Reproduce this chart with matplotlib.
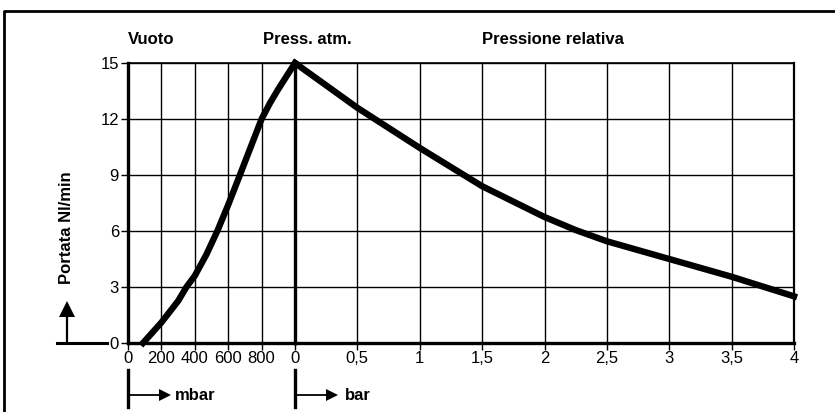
import matplotlib
matplotlib.use('Agg')
import matplotlib.pyplot as plt
from matplotlib.lines import Line2D
from matplotlib.transforms import blended_transform_factory

plt.rcParams['font.family'] = ['Liberation Sans', 'DejaVu Sans']
plt.rcParams['font.size'] = 12

# vacuum side (mbar) and relative pressure side (bar)
vac_mbar = [90, 200, 300, 350, 400, 470, 535, 600, 670, 800, 850, 900, 950, 1000]
vac_flow = [0, 1.1, 2.25, 3.0, 3.6, 4.75, 6.0, 7.4, 9.0, 12.0, 12.85, 13.6, 14.3, 15.0]
rel_bar = [0, 0.5, 1, 1.5, 2, 2.25, 2.5, 3, 3.5, 4]
rel_flow = [15, 12.6, 10.45, 8.4, 6.75, 6.05, 5.45, 4.5, 3.55, 2.5]

vac_ticks = [0, 200, 400, 600, 800]
bar_ticks = [0, 0.5, 1, 1.5, 2, 2.5, 3, 3.5, 4]
bar_labels = ['0', '0,5', '1', '1,5', '2', '2,5', '3', '3,5', '4']
y_ticks = [0, 3, 6, 9, 12, 15]

W, H = 835, 412
fig = plt.figure(figsize=(W / 100, H / 100), dpi=100)

# axes rectangles from pixel positions
L, R, B, T, S = 128 / W, 794 / W, 1 - 343 / H, 1 - 63 / H, 295 / W
ax1 = fig.add_axes([L, B, S - L, T - B])
ax2 = fig.add_axes([S, B, R - S, T - B])

for ax in (ax1, ax2):
    ax.set_ylim(0, 15)
    ax.set_yticks(y_ticks)
    ax.grid(True, color='k', lw=1.0)
    ax.set_axisbelow(True)
    ax.tick_params(axis='x', length=5, width=1, pad=1, labelsize=12)
    ax.tick_params(axis='y', length=5, width=1, pad=1.5, labelsize=12)
    ax.spines['top'].set_linewidth(1.2)
    ax.spines['bottom'].set_linewidth(2.4)
    ax.spines['left'].set_linewidth(2.4)

ax1.set_xlim(0, 1000)
ax1.set_xticks(vac_ticks)
ax1.set_xticklabels([str(v) for v in vac_ticks])
ax1.spines['right'].set_visible(False)

ax2.set_xlim(0, 4)
ax2.set_xticks(bar_ticks)
ax2.set_xticklabels(bar_labels)
ax2.spines['right'].set_linewidth(1.6)
ax2.tick_params(axis='y', left=False, labelleft=False)

ax1.plot(vac_mbar, vac_flow, color='k', lw=4.6, clip_on=False, zorder=5,
         solid_joinstyle='round')
ax2.plot(rel_bar, rel_flow, color='k', lw=4.6, clip_on=False, zorder=5,
         solid_joinstyle='round')

# headings
t1 = blended_transform_factory(ax1.transData, fig.transFigure)
t2 = blended_transform_factory(ax2.transData, fig.transFigure)
yh = 1 - 39 / H
ax1.text(0, yh, 'Vuoto', transform=t1, ha='left', va='center', fontweight='bold')
ax1.text(808, yh, 'Press. atm.', transform=t1, ha='left', va='center', fontweight='bold')
ax2.text(1.5, yh, 'Pressione relativa', transform=t2, ha='left', va='center', fontweight='bold')

# y label and up arrow
ax1.text(-367, 6.2, 'Portata Nl/min', rotation=90, ha='center', va='center',
         fontweight='bold')
ax1.plot([-425, -126], [0, 0], color='k', lw=2.2, clip_on=False)
ax1.plot([-363, -363], [0, 1.8], color='k', lw=1.6, clip_on=False)
ax1.plot([-363], [1.8], marker='^', ms=11, mew=0, color='k', clip_on=False)

# unit arrows under the x axis
for ax, x_head, x_txt, unit in ((ax1, 222, 281, 'mbar'), (ax2, 0.293, 0.403, 'bar')):
    tr = ax.get_xaxis_transform()
    ax.plot([0, 0], [-0.096, -0.229], transform=tr, color='k', lw=2.4, clip_on=False)
    ax.plot([0, x_head], [-0.186, -0.186], transform=tr, color='k', lw=1.3, clip_on=False)
    ax.plot([x_head], [-0.186], transform=tr, marker='>', ms=8, mew=0, color='k',
            clip_on=False)
    ax.text(x_txt, -0.186, unit, transform=tr, ha='left', va='center', fontweight='bold')

# frame (left and top only, like the cropped scan)
fig.add_artist(Line2D([4 / W, 4 / W, 1], [0, 1 - 10.5 / H, 1 - 10.5 / H],
                      transform=fig.transFigure, color='k', lw=2))

fig.savefig('out.png', dpi=100)
